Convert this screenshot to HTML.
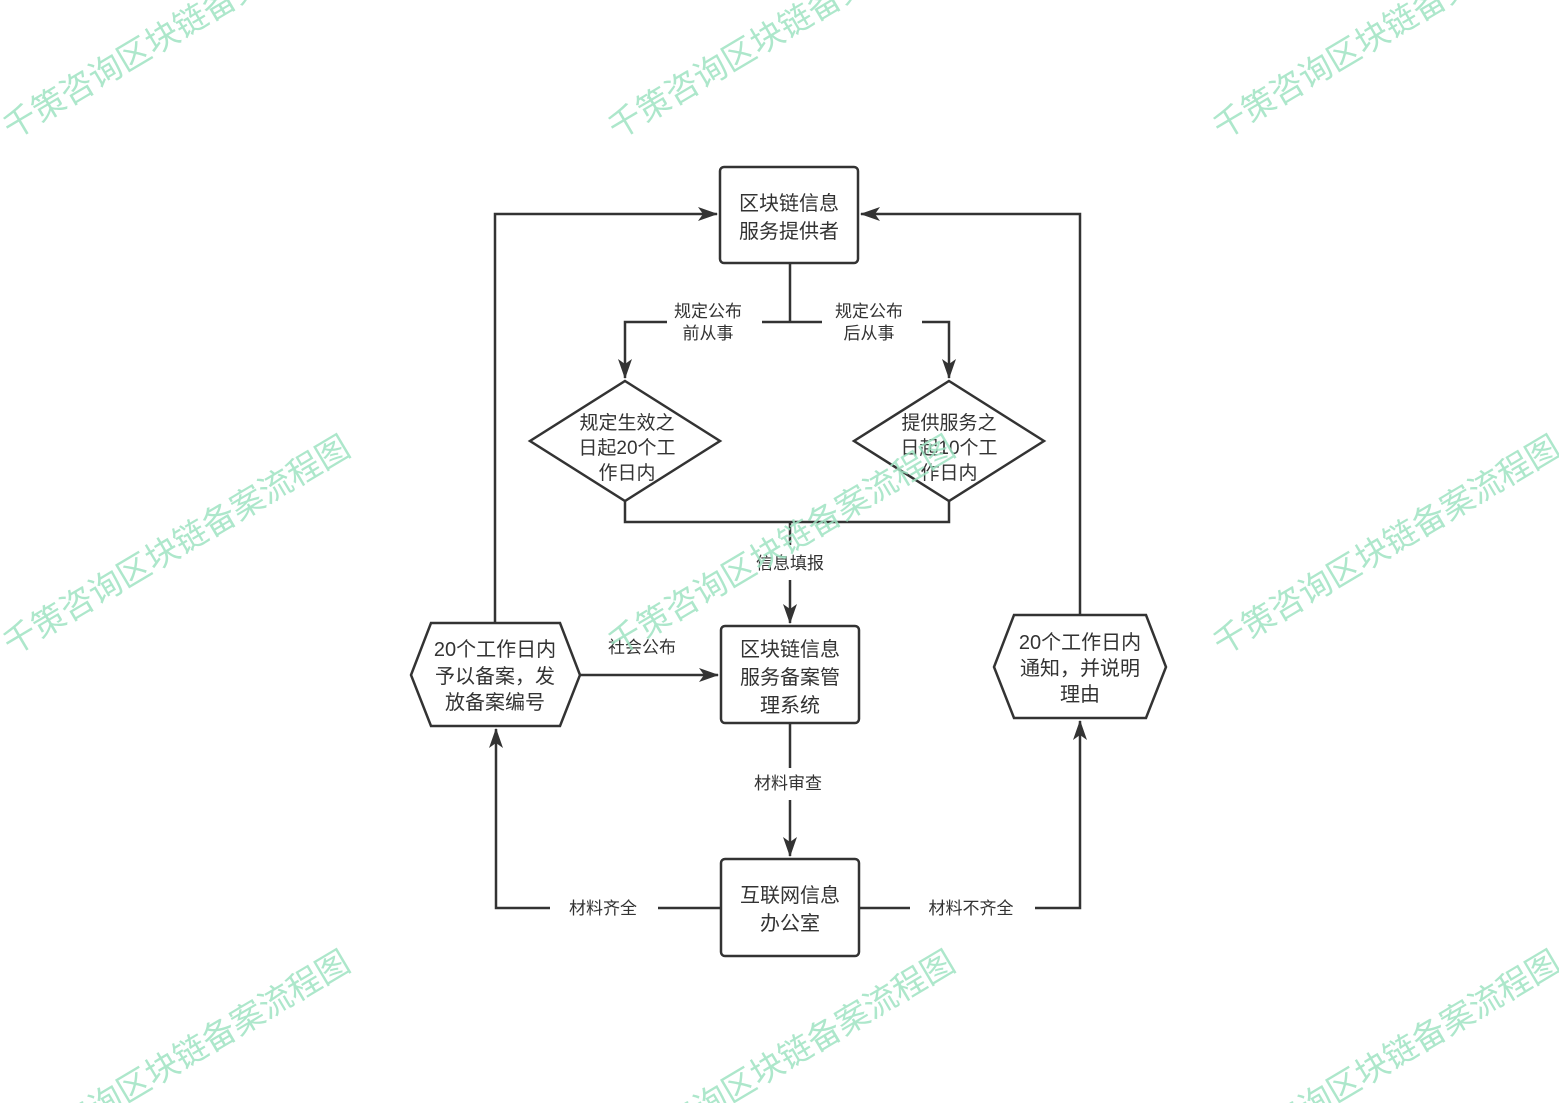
<!DOCTYPE html>
<html><head><meta charset="utf-8"><style>
html,body{margin:0;padding:0;background:#fff;width:1559px;height:1103px;overflow:hidden;}
svg{display:block;}
text{font-family:"Liberation Sans","Noto Sans CJK SC",sans-serif;}
.n{font-size:20px;fill:#333;text-anchor:middle;}
.l{font-size:17px;fill:#333;text-anchor:middle;}
.w{font-size:33px;fill:#9fe3c2;opacity:0.85;}
</style></head><body>
<svg width="1559" height="1103" viewBox="0 0 1559 1103" xmlns="http://www.w3.org/2000/svg">
<defs><marker id="b" markerWidth="20" markerHeight="14" refX="19" refY="7" orient="auto" markerUnits="userSpaceOnUse"><path d="M0,0 L20,7 L0,14 L5,7 Z" fill="#333"/></marker></defs>
<g stroke="#333" stroke-width="2.5" fill="none">
<rect x="720" y="167" width="138" height="96" rx="4"/>
<rect x="721" y="626" width="138" height="97" rx="4"/>
<rect x="721" y="859" width="138" height="97" rx="4"/>
<polygon points="625,381 720,441 625,501 530,441"/>
<polygon points="949,381 1044,441 949,501 854,441"/>
<polygon points="431,623 560,623 580,675 560,726 431,726 411,675"/>
<polygon points="1014,615 1146,615 1166,667 1146,718 1014,718 994,667"/>
<path d="M790,263 V322"/>
<path d="M762,322 H822"/>
<path d="M667,322 H625 V378" marker-end="url(#b)"/>
<path d="M922,322 H949 V378" marker-end="url(#b)"/>
<path d="M625,501 V522 H949 V501"/>
<path d="M790,522 V545"/>
<path d="M790,580 V623" marker-end="url(#b)"/>
<path d="M580,675 H718" marker-end="url(#b)"/>
<path d="M495,623 V214 H717" marker-end="url(#b)"/>
<path d="M1080,615 V214 H861" marker-end="url(#b)"/>
<path d="M790,723 V768"/>
<path d="M790,800 V856" marker-end="url(#b)"/>
<path d="M721,908 H658"/>
<path d="M550,908 H496 V729" marker-end="url(#b)"/>
<path d="M859,908 H910"/>
<path d="M1035,908 H1080 V721" marker-end="url(#b)"/>
</g>
<text class="n" x="789" y="210">区块链信息</text>
<text class="n" x="789" y="238">服务提供者</text>
<text class="n" x="790" y="656">区块链信息</text>
<text class="n" x="790" y="684">服务备案管</text>
<text class="n" x="790" y="712">理系统</text>
<text class="n" x="790" y="902">互联网信息</text>
<text class="n" x="790" y="930">办公室</text>
<text class="n" x="495" y="656">20个工作日内</text>
<text class="n" x="495" y="683">予以备案，发</text>
<text class="n" x="495" y="709">放备案编号</text>
<text class="n" x="1080" y="649">20个工作日内</text>
<text class="n" x="1080" y="675">通知，并说明</text>
<text class="n" x="1080" y="701">理由</text>
<text class="n" x="627" y="429" style="font-size:19px">规定生效之</text>
<text class="n" x="627" y="454" style="font-size:19px">日起20个工</text>
<text class="n" x="627" y="479" style="font-size:19px">作日内</text>
<text class="n" x="949" y="429" style="font-size:19px">提供服务之</text>
<text class="n" x="949" y="454" style="font-size:19px">日起10个工</text>
<text class="n" x="949" y="479" style="font-size:19px">作日内</text>
<text class="l" x="708" y="317">规定公布</text>
<text class="l" x="708" y="339">前从事</text>
<text class="l" x="869" y="317">规定公布</text>
<text class="l" x="869" y="339">后从事</text>
<text class="l" x="790" y="569">信息填报</text>
<text class="l" x="642" y="653">社会公布</text>
<text class="l" x="788" y="789">材料审查</text>
<text class="l" x="603" y="914">材料齐全</text>
<text class="l" x="971" y="914">材料不齐全</text>
<g>
<text class="w" transform="translate(12,140) rotate(-30.7)">千策咨询区块链备案流程图</text>
<text class="w" transform="translate(617,140) rotate(-30.7)">千策咨询区块链备案流程图</text>
<text class="w" transform="translate(1222,140) rotate(-30.7)">千策咨询区块链备案流程图</text>
<text class="w" transform="translate(12,656) rotate(-30.7)">千策咨询区块链备案流程图</text>
<text class="w" transform="translate(617,656) rotate(-30.7)">千策咨询区块链备案流程图</text>
<text class="w" transform="translate(1222,656) rotate(-30.7)">千策咨询区块链备案流程图</text>
<text class="w" transform="translate(12,1171) rotate(-30.7)">千策咨询区块链备案流程图</text>
<text class="w" transform="translate(617,1171) rotate(-30.7)">千策咨询区块链备案流程图</text>
<text class="w" transform="translate(1222,1171) rotate(-30.7)">千策咨询区块链备案流程图</text>
</g>
</svg>
</body></html>
